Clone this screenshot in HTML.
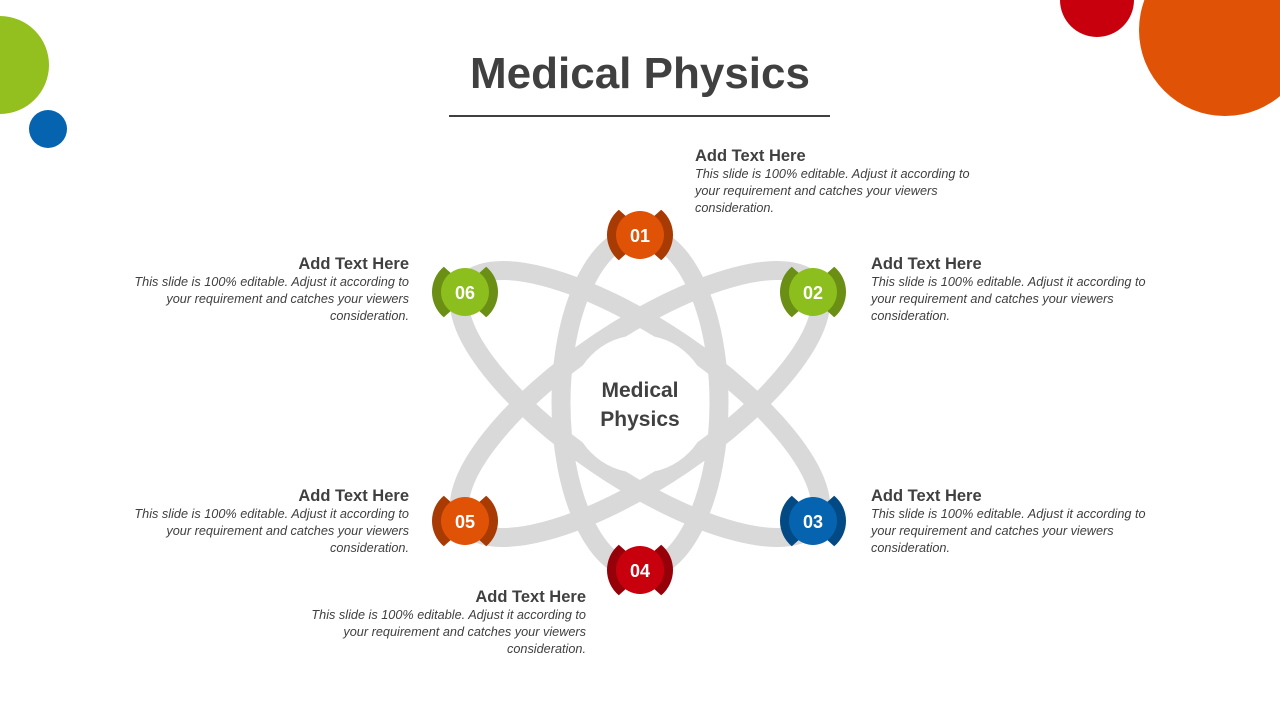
<!DOCTYPE html>
<html><head><meta charset="utf-8"><style>
body{margin:0;width:1280px;height:720px;overflow:hidden;background:#fff;font-family:"Liberation Sans",sans-serif;position:relative}
.t{position:absolute;color:#404040;white-space:nowrap}
.t h3{margin:0;font-size:16.5px;font-weight:bold;line-height:20px}
.t p{margin:0;font-size:12.7px;font-style:italic;line-height:17px}
.r{text-align:right}
</style></head><body>
<svg width="1280" height="720" style="position:absolute;left:0;top:0">
<circle cx="0" cy="65" r="49" fill="#93c01f"/>
<circle cx="48" cy="129" r="19" fill="#0563b0"/>
<circle cx="1097" cy="0" r="37" fill="#c8000e"/>
<circle cx="1225" cy="30" r="86" fill="#e05206"/>
<text x="640" y="88" text-anchor="middle" font-family="Liberation Sans" font-weight="bold" font-size="44" fill="#404040">Medical Physics</text>
<line x1="449" y1="116" x2="830" y2="116" stroke="#404040" stroke-width="2"/>
<g fill="none" stroke="#d9d9d9" stroke-width="19">
<ellipse cx="640" cy="403" rx="79" ry="168"/>
<ellipse cx="640" cy="404" rx="212" ry="74" transform="rotate(34 640 404)"/>
<ellipse cx="640" cy="404" rx="212" ry="74" transform="rotate(-34 640 404)"/>
</g>
<circle cx="640" cy="404" r="69" fill="#fff"/>
<text x="640" y="397" text-anchor="middle" font-family="Liberation Sans" font-weight="bold" font-size="21" fill="#404040">Medical</text>
<text x="640" y="426" text-anchor="middle" font-family="Liberation Sans" font-weight="bold" font-size="21" fill="#404040">Physics</text>
<defs>
<path id="arc" d="M21.2,-25.3 A33,33 0 0 1 21.2,25.3 L12,17 A21,21 0 0 0 12,-17 Z"/>
</defs>
<g font-family="Liberation Sans" font-weight="bold" font-size="18" text-anchor="middle" fill="#fff">
<g transform="translate(640,235)"><use href="#arc" fill="#a83a04"/><use href="#arc" fill="#a83a04" transform="scale(-1,1)"/><circle r="24" fill="#e05206"/><text y="7">01</text></g>
<g transform="translate(813,292)"><use href="#arc" fill="#6a8f14"/><use href="#arc" fill="#6a8f14" transform="scale(-1,1)"/><circle r="24" fill="#8cbe1e"/><text y="7">02</text></g>
<g transform="translate(813,521)"><use href="#arc" fill="#034a85"/><use href="#arc" fill="#034a85" transform="scale(-1,1)"/><circle r="24" fill="#0563b0"/><text y="7">03</text></g>
<g transform="translate(640,570)"><use href="#arc" fill="#960009"/><use href="#arc" fill="#960009" transform="scale(-1,1)"/><circle r="24" fill="#c8000e"/><text y="7">04</text></g>
<g transform="translate(465,521)"><use href="#arc" fill="#a83a04"/><use href="#arc" fill="#a83a04" transform="scale(-1,1)"/><circle r="24" fill="#e05206"/><text y="7">05</text></g>
<g transform="translate(465,292)"><use href="#arc" fill="#6a8f14"/><use href="#arc" fill="#6a8f14" transform="scale(-1,1)"/><circle r="24" fill="#8cbe1e"/><text y="7">06</text></g>
</g>
</svg>
<div class="t" style="left:695px;top:146px"><h3>Add Text Here</h3><p>This slide is 100% editable. Adjust it according to<br>your requirement and catches your viewers<br>consideration.</p></div>
<div class="t" style="left:871px;top:254px"><h3>Add Text Here</h3><p>This slide is 100% editable. Adjust it according to<br>your requirement and catches your viewers<br>consideration.</p></div>
<div class="t" style="left:871px;top:486px"><h3>Add Text Here</h3><p>This slide is 100% editable. Adjust it according to<br>your requirement and catches your viewers<br>consideration.</p></div>
<div class="t r" style="right:871px;top:254px"><h3>Add Text Here</h3><p>This slide is 100% editable. Adjust it according to<br>your requirement and catches your viewers<br>consideration.</p></div>
<div class="t r" style="right:871px;top:486px"><h3>Add Text Here</h3><p>This slide is 100% editable. Adjust it according to<br>your requirement and catches your viewers<br>consideration.</p></div>
<div class="t r" style="right:694px;top:587px"><h3>Add Text Here</h3><p>This slide is 100% editable. Adjust it according to<br>your requirement and catches your viewers<br>consideration.</p></div>
</body></html>
